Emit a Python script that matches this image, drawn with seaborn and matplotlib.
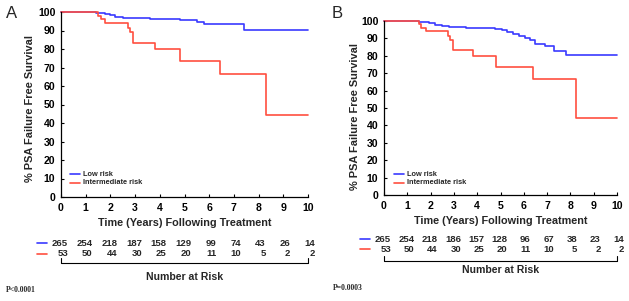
import numpy as np
import pandas as pd
import matplotlib
matplotlib.use("Agg")
import matplotlib.pyplot as plt
import matplotlib.transforms as mtransforms
import seaborn as sns

sns.set_theme(style="ticks")
plt.rcParams['font.family'] = ['Liberation Sans', 'DejaVu Sans']
plt.rcParams['font.weight'] = 'bold'

groups = ["Low risk", "Intermediate risk"]
colors = {"Low risk": "#3a3aff", "Intermediate risk": "#ff4f3f"}

# Panel A
a_low_t = [0, 1.4, 1.6, 1.8, 2.0, 2.2, 2.5, 3.6, 4.8, 5.5, 5.8, 7.4, 10]
a_low_s = [100, 99.7, 99.4, 99.0, 98.3, 97.5, 96.8, 96.2, 95.6, 94.8, 93.4, 90.2, 90.2]
a_int_t = [0, 1.5, 1.6, 1.8, 2.7, 2.8, 2.9, 3.8, 4.8, 6.45, 8.3, 10]
a_int_s = [100, 98.1, 96.2, 94.0, 91.5, 89.0, 83.3, 80.1, 73.3, 66.6, 44.4, 44.4]
a_risk_low = [265, 254, 218, 187, 158, 129, 99, 74, 43, 26, 14]
a_risk_int = [53, 50, 44, 30, 25, 20, 11, 10, 5, 2, 2]

# Panel B
b_low_t = [0, 1.5, 1.7, 1.95, 2.2, 2.5, 2.8, 3.5, 4.6, 4.75, 5.05, 5.3, 5.55,
           5.8, 6.05, 6.25, 6.5, 6.9, 7.3, 7.8, 10]
b_low_s = [100, 99.7, 99.3, 98.8, 97.9, 97.2, 96.6, 96.1, 95.7, 95.3, 94.6, 93.6,
           92.8, 91.3, 90.4, 88.9, 87.0, 85.7, 82.8, 80.6, 80.6]
b_int_t = [0, 1.5, 1.6, 1.8, 2.75, 2.85, 2.95, 3.8, 4.8, 6.4, 8.25, 10]
b_int_s = [100, 98.1, 96.2, 94.0, 91.5, 89.0, 83.3, 80.1, 73.3, 66.6, 44.4, 44.4]
b_risk_low = [265, 254, 218, 186, 157, 128, 96, 67, 38, 23, 14]
b_risk_int = [53, 50, 44, 30, 25, 20, 11, 10, 5, 2, 2]

risk_times = list(range(0, 11))
x_ticks = list(range(0, 11))
y_ticks = list(range(0, 101, 10))

W, H = 629, 301
fig = plt.figure(figsize=(W / 100, H / 100), dpi=100)


def fx(px):
    return px / W


def fy(py):
    return 1 - py / H


def panel(rect, lt, ls, it, is_, rlow, rint, letter, letter_xy, ylab_xy, xlab_y,
          row_y, bracket_y, nar_y, pval, pval_xy, leg_x, leg_y):
    l, t, r, b = rect
    ax = fig.add_axes([fx(l), fy(b), fx(r) - fx(l), fy(t) - fy(b)])
    df = pd.concat([
        pd.DataFrame({"t": lt, "s": ls, "g": groups[0]}),
        pd.DataFrame({"t": it, "s": is_, "g": groups[1]}),
    ])
    sns.lineplot(data=df, x="t", y="s", hue="g", palette=colors, estimator=None,
                 sort=False, drawstyle="steps-post", lw=1.2, legend=False, ax=ax)
    for line in ax.lines:
        line.set_clip_on(False)
    ax.set_xlim(0, 10)
    ax.set_ylim(0, 100)
    ax.set_xticks(x_ticks)
    ax.set_yticks(y_ticks)
    ax.tick_params(labelsize=7.6, length=2.5, width=0.8, pad=4, colors='black',
                   direction='in')
    for lab in ax.get_xticklabels() + ax.get_yticklabels():
        lab.set_fontweight('bold')
    sns.despine(ax=ax)
    for sp in ("left", "bottom"):
        ax.spines[sp].set_color('black')
        ax.spines[sp].set_linewidth(0.9)
    ax.set_xlabel("")
    ax.set_ylabel("")
    ax.set_facecolor('white')

    # labels
    fig.text(fx(ylab_xy[0]), fy(ylab_xy[1]), "% PSA Failure Free Survival",
             rotation=90, ha='center', va='center', fontsize=7.9, fontweight='bold')
    fig.text((fx(l) + fx(r)) / 2, fy(xlab_y), "Time (Years) Following Treatment",
             ha='center', va='center', fontsize=7.8, fontweight='bold')
    fig.text(fx(letter_xy[0]), fy(letter_xy[1]), letter, ha='center', va='center',
             fontsize=12, fontweight='normal')

    # legend
    for i, g in enumerate(groups):
        yy = fy(leg_y[i])
        fig.add_artist(plt.Line2D([fx(leg_x), fx(leg_x + 10)], [yy, yy],
                                  color=colors[g], lw=1.2, transform=fig.transFigure))
        fig.text(fx(leg_x + 13), yy, g, ha='left', va='center', fontsize=5.3,
                 fontweight='bold')

    # number at risk table
    tr = mtransforms.blended_transform_factory(ax.transData, fig.transFigure)
    tr_off = mtransforms.offset_copy(tr, fig=fig, x=7, y=0, units='dots')
    for rowvals, yy in ((rlow, row_y[0]), (rint, row_y[1])):
        for tm, v in zip(risk_times, rowvals):
            ax.text(tm, fy(yy), str(v), transform=tr_off, ha='right', va='center',
                    fontsize=6.8, fontweight='bold', clip_on=False)
    for i, g in enumerate(groups):
        yy = fy(row_y[i])
        fig.add_artist(plt.Line2D([fx(l - 24), fx(l - 14)], [yy, yy],
                                  color=colors[g], lw=1.2, transform=fig.transFigure))
    # bracket
    by = fy(bracket_y)
    bt = fy(bracket_y - 5)
    fig.add_artist(plt.Line2D([fx(l), fx(l), fx(r), fx(r)], [bt, by, by, bt],
                              color='black', lw=0.8, transform=fig.transFigure))
    fig.text((fx(l) + fx(r)) / 2, fy(nar_y), "Number at Risk", ha='center',
             va='center', fontsize=7.6, fontweight='bold')
    fig.text(fx(pval_xy[0]), fy(pval_xy[1]), pval, ha='left', va='center',
             fontsize=5.5, family='Liberation Serif', fontweight='bold')
    return ax


panel((61, 12, 308, 197), a_low_t, a_low_s, a_int_t, a_int_s, a_risk_low, a_risk_int,
      "A", (12, 13), (30, 108.5), 223, (243, 254), 263, 277, "P<0.0001", (6, 290), 70,
      (174, 183))
panel((384, 21, 617, 195), b_low_t, b_low_s, b_int_t, b_int_s, b_risk_low, b_risk_int,
      "B", (337, 14), (355, 116), 221, (239, 249), 261, 270, "P=0.0003", (333, 288), 394,
      (174, 183))

fig.savefig("out.png", dpi=100, facecolor='white')
